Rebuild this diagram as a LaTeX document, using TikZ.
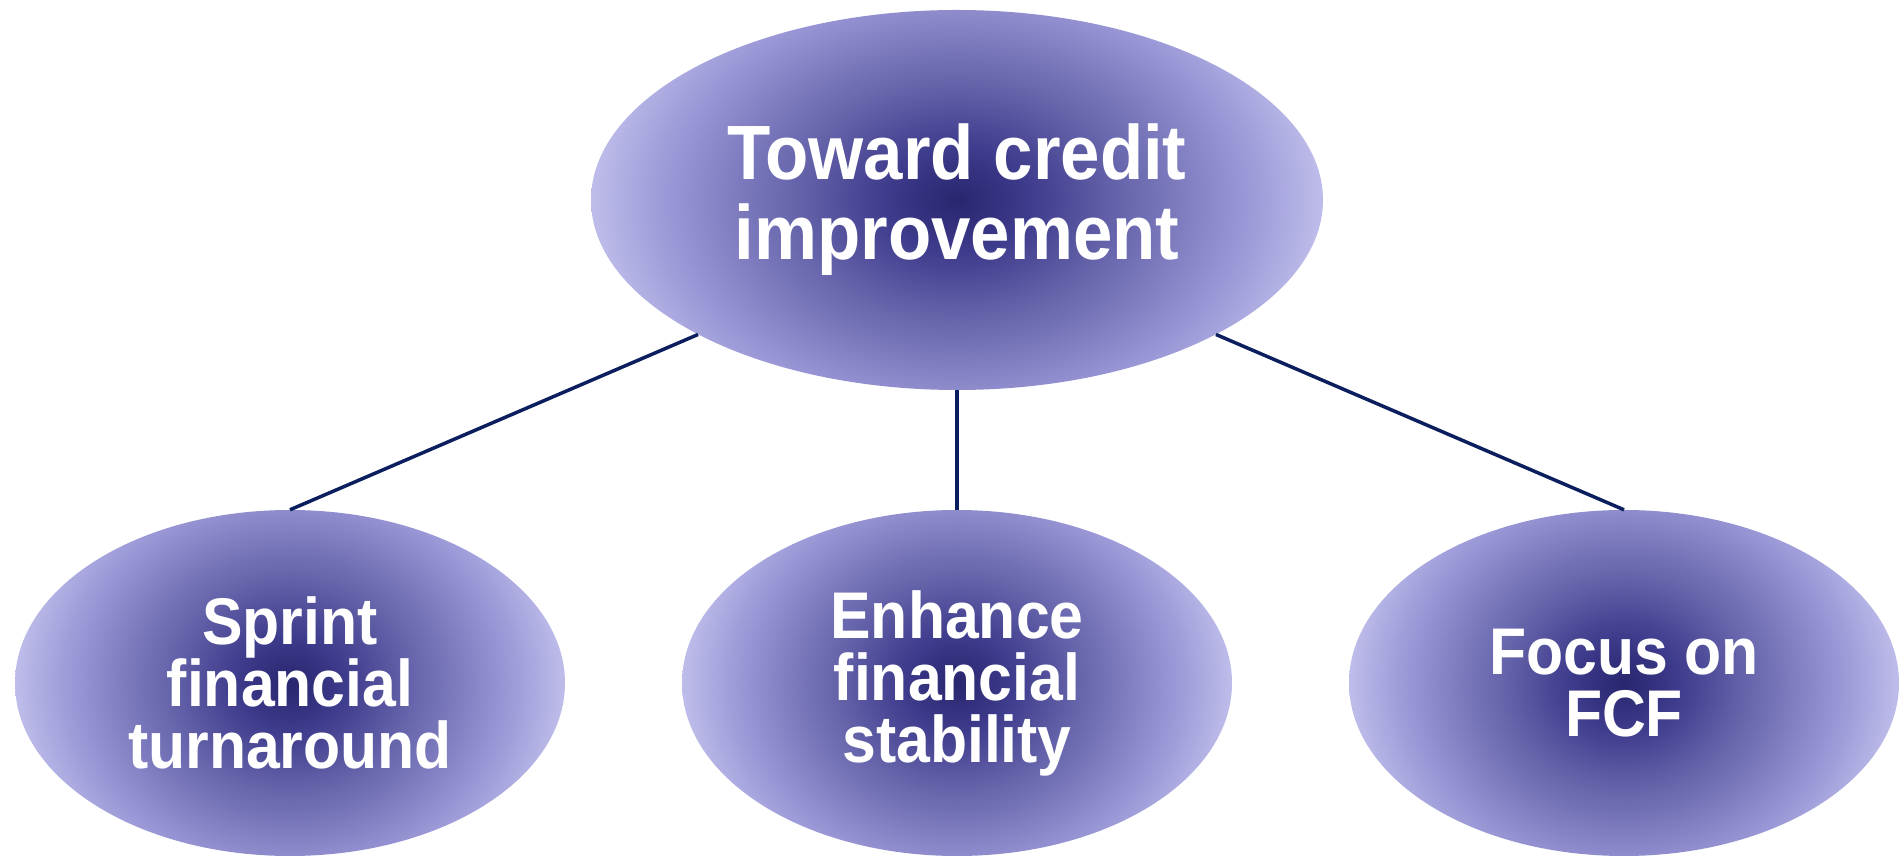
\documentclass[tikz,border=0pt]{standalone}
\usepackage{fontspec}
\setmainfont{Liberation Sans}[FakeStretch=0.92]
\usetikzlibrary{shapes.geometric,calc}
\setlength{\lineskiplimit}{-200pt}
\definecolor{sc0}{RGB}{40,38,110}
\definecolor{sc1}{RGB}{62,60,140}
\definecolor{sc2}{RGB}{95,93,165}
\definecolor{sc3}{RGB}{125,123,190}
\definecolor{sc4}{RGB}{155,153,215}
\definecolor{sc5}{RGB}{190,189,234}
\definecolor{linkcol}{RGB}{11,31,94}
\pgfdeclareradialshading{blobshade}{\pgfpoint{0bp}{0bp}}{color(0bp)=(sc0); color(5bp)=(sc1); color(10bp)=(sc2); color(15bp)=(sc3); color(20bp)=(sc4); color(25bp)=(sc5); color(50bp)=(sc5)}
\tikzset{
  blob/.style={ellipse, inner sep=0pt, text=white, align=center,
    path picture={\shade[shading=blobshade]
      ($(path picture bounding box.south west)!-0.2!(path picture bounding box.north west)$)
      rectangle
      ($(path picture bounding box.north east)!-0.2!(path picture bounding box.south east)$);}},
  topblob/.style={blob, minimum width=732pt, minimum height=380pt,
    font=\bfseries\fontsize{77}{80}\selectfont},
  subblob/.style={blob, minimum width=550pt, minimum height=346pt,
    font=\bfseries\fontsize{66}{62}\selectfont},
  link/.style={draw=linkcol, line width=3.5pt}
}
\begin{document}
\begin{tikzpicture}[x=1pt,y=1pt]
\useasboundingbox (0,0) rectangle (1903,856);
\node[topblob] (top) at (957,656) {Toward credit\\improvement};
\node[subblob] (left) at (290,173) {Sprint\\financial\\turnaround};
\node[subblob] (mid) at (957,173) {Enhance\\financial\\stability};
\node[subblob] (right) at (1624,173) {Focus on\\FCF};
\draw[link] (top.south west) -- (left.north);
\draw[link] (top.south) -- (mid.north);
\draw[link] (top.south east) -- (right.north);
\end{tikzpicture}
\end{document}
